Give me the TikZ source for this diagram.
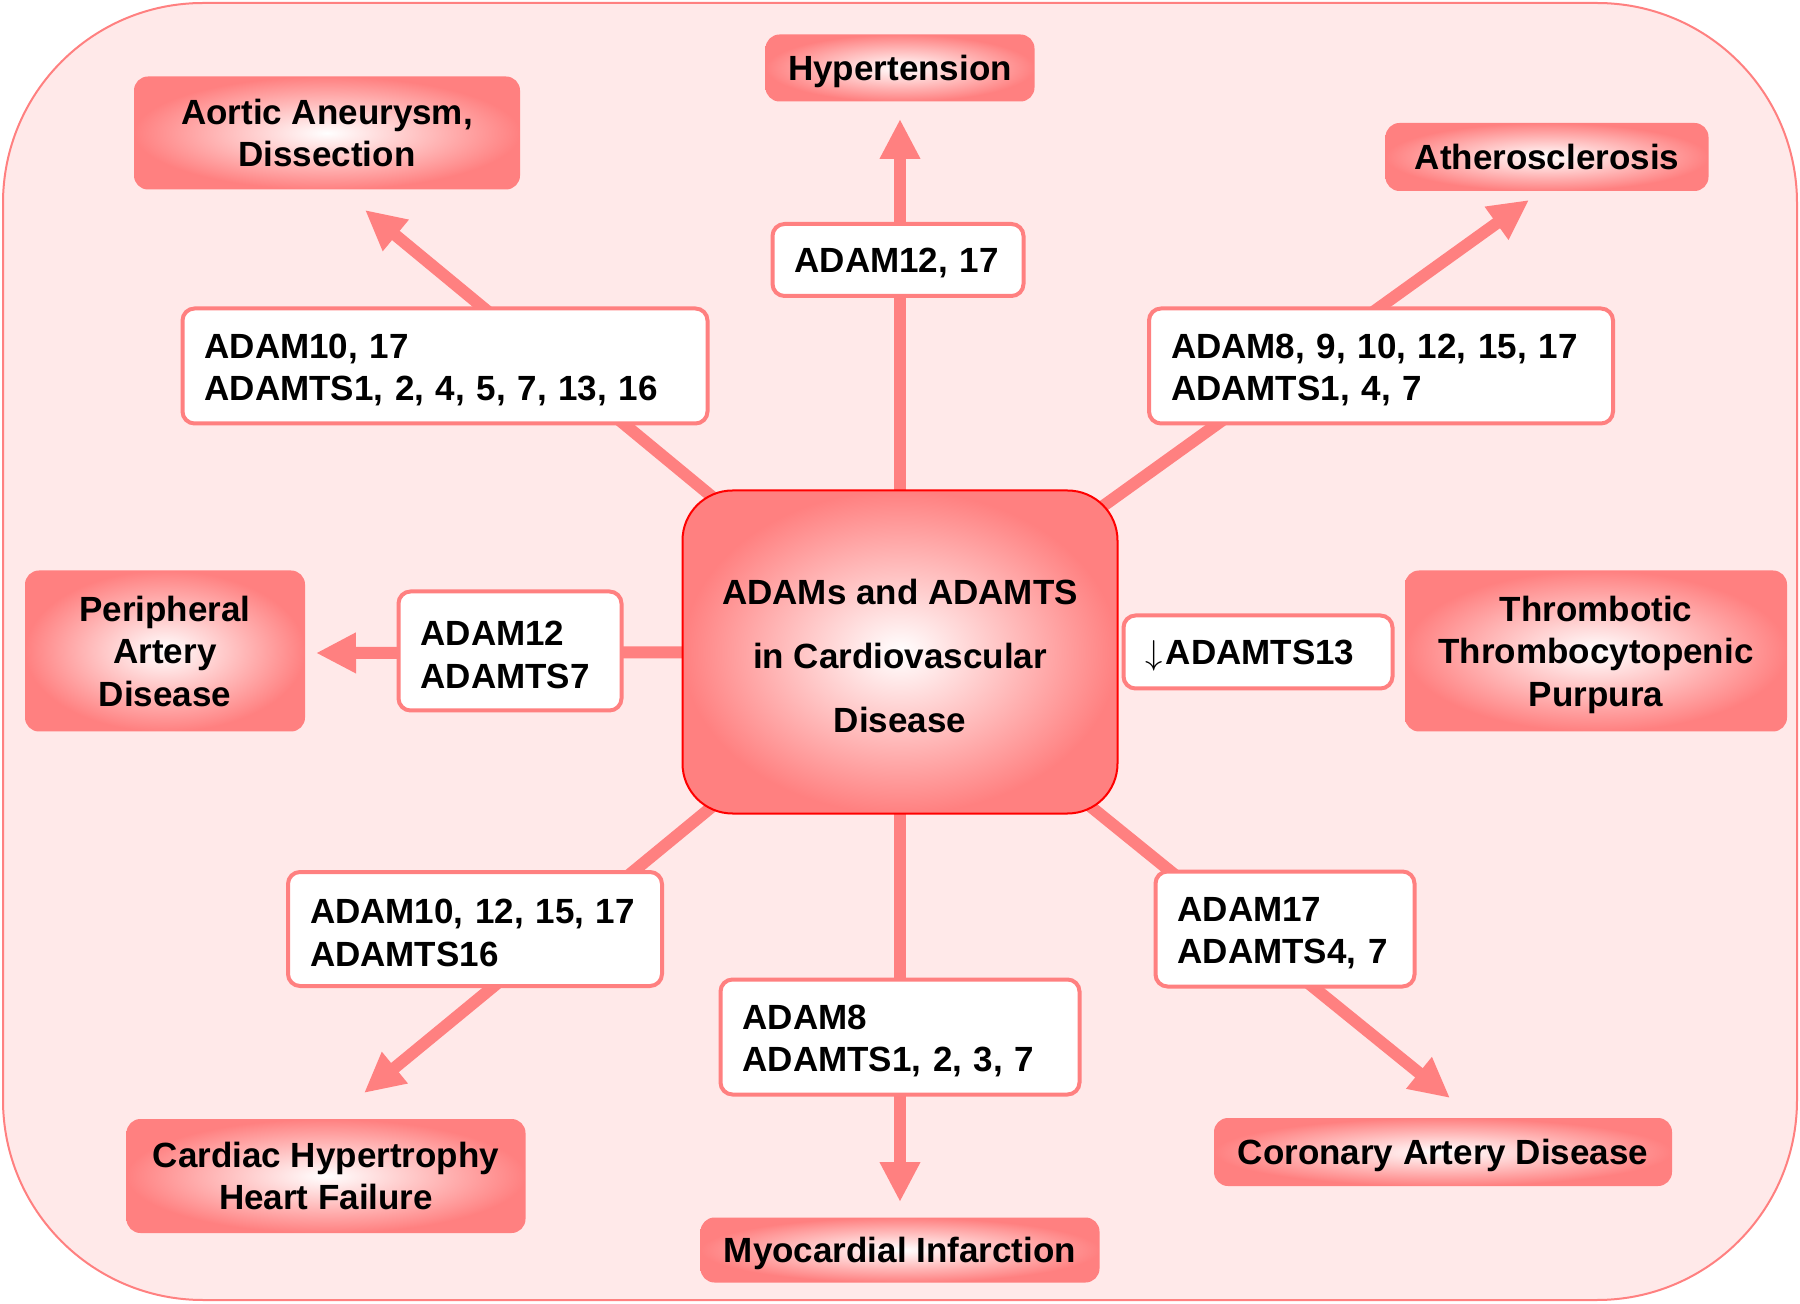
\documentclass[tikz,border=0pt]{standalone}
\usepackage{fontspec}
\setmainfont{Liberation Sans}
\usetikzlibrary{arrows.meta,positioning}
\definecolor{salmon}{RGB}{255,128,128}
\definecolor{blush}{RGB}{255,233,233}
\pgfdeclarelayer{bg}
\pgfsetlayers{bg,main}

\begin{document}
\begin{tikzpicture}
	[   x=0.5pt,y=-0.5pt,
	    font=\bfseries\fontsize{17.5}{21.25}\selectfont,
	    dnode/.style={rounded corners=7pt,shading=radial,inner color=white,outer color=salmon,align=center,text depth=0pt},
	    gnode/.style={draw=salmon,line width=2pt,fill=white,rounded corners=6pt,align=left,inner xsep=11pt,text width=#1,text height=16pt},
	    gline/.style={gnode=#1,text height=,text depth=0pt},
	]
	\tikzset{thick arrow/.style={draw=salmon,line width=6pt,-{Triangle[length=20pt,width=19pt]}}}
	\useasboundingbox (0,0) rectangle (1800,1304);
	
	% centre
	\node[draw=red,line width=1pt,rounded corners=25pt,shading=radial,inner color=white,outer color=salmon,
	      minimum width=217.5pt,minimum height=161.5pt,align=center,text height=81pt,
	      font=\bfseries\fontsize{17.5}{32}\selectfont] (hub) at (900,652) {ADAMs and ADAMTS\\in Cardiovascular\\Disease};
	
	% diseases
	\node[dnode,minimum width=134.5pt,minimum height=33.5pt] (hyp) at (900,68) {Hypertension};
	\node[dnode,minimum width=193pt,minimum height=56.5pt] (aor) at (327,133) {Aortic Aneurysm,\\Dissection};
	\node[dnode,minimum width=161.5pt,minimum height=34pt] (ath) at (1547,157) {Atherosclerosis};
	\node[dnode,minimum width=140pt,minimum height=80.5pt] (pad) at (165,651) {Peripheral\\Artery\\Disease};
	\node[dnode,minimum width=191pt,minimum height=80.5pt] (ttp) at (1596,651) {Thrombotic\\Thrombocytopenic\\Purpura};
	\node[dnode,minimum width=199.5pt,minimum height=57pt] (chf) at (326,1176) {Cardiac Hypertrophy\\Heart Failure};
	\node[dnode,minimum width=199.5pt,minimum height=32.5pt] (mi) at (900,1250) {Myocardial Infarction};
	\node[dnode,minimum width=229pt,minimum height=34pt] (cad) at (1443,1152) {Coronary Artery Disease};
	
	\coordinate (t-hyp) at (900,119);
	\coordinate (t-aor) at (365,210);
	\coordinate (t-ath) at (1529,200);
	\coordinate (t-pad) at (316,653);
	\coordinate (t-chf) at (364,1093);
	\coordinate (t-mi) at (900,1202);
	\coordinate (t-cad) at (1450,1098);
	
	\begin{pgfonlayer}{bg}
		\draw[draw=salmon,fill=blush,line width=1pt,rounded corners=100pt] (3,3) rectangle (1797,1300);
		\foreach \n in {hyp,aor,ath,pad,chf,mi,cad}
		{
			\path[thick arrow] (hub.center) -- (t-\n);
		}
	\end{pgfonlayer}
	
	% ADAM / ADAMTS boxes
	\node[gline=103.5pt,minimum height=36pt] (g-hyp) at (898,260) {ADAM12, 17};
	\node[gnode=240.5pt,minimum height=57.5pt] (g-aor) at (445,366) {ADAM10, 17\\ADAMTS1, 2, 4, 5, 7, 13, 16};
	\node[gnode=210pt,minimum height=57.5pt] (g-ath) at (1381,366) {ADAM8, 9, 10, 12, 15, 17\\ADAMTS1, 4, 7};
	\node[gnode=89.5pt,minimum height=59.5pt] (g-pad) at (510,651) {ADAM12\\ADAMTS7};
	\node[gline=112.5pt,minimum height=36.5pt] (g-ttp) at (1258,652) {$\downarrow$\kern1.5pt ADAMTS13};
	\node[gnode=165pt,minimum height=57pt] (g-chf) at (475,929) {ADAM10, 12, 15, 17\\ADAMTS16};
	\node[gnode=157.5pt,minimum height=57.5pt] (g-mi) at (900,1037) {ADAM8\\ADAMTS1, 2, 3, 7};
	\node[gnode=107.5pt,minimum height=57.5pt] (g-cad) at (1285,929) {ADAM17\\ADAMTS4, 7};
\end{tikzpicture}
\end{document}
